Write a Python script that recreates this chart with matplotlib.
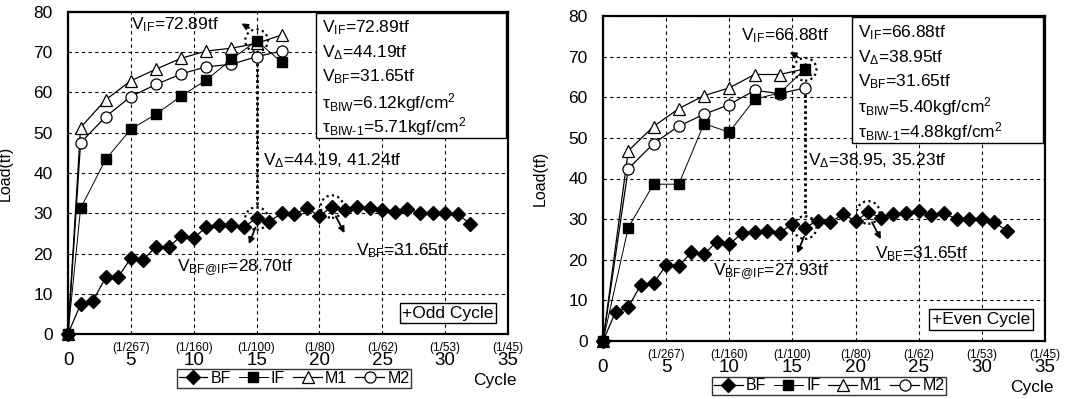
import numpy as np
import matplotlib.pyplot as plt
from matplotlib.patches import Ellipse
from matplotlib.transforms import blended_transform_factory

plt.rcParams['font.family'] = ['Liberation Sans', 'DejaVu Sans']
plt.rcParams['mathtext.fontset'] = 'custom'
plt.rcParams['mathtext.rm'] = 'Liberation Sans'
plt.rcParams['mathtext.it'] = 'Liberation Sans'
plt.rcParams['mathtext.default'] = 'rm'

# ----- data -----
cycle_bf = list(range(0, 33))

bf_odd = [0, 7.4, 8.3, 14.1, 14.2, 18.8, 18.5, 21.7, 21.5, 24.4, 23.9, 26.5, 27.1, 27.1, 26.7,
          28.7, 27.9, 30.0, 29.8, 31.2, 29.3, 31.65, 30.8, 31.5, 31.3, 30.8, 30.2, 31.1, 30.0,
          30.0, 30.0, 29.8, 27.3]
cycle_odd = [0, 1, 3, 5, 7, 9, 11, 13, 15, 17]
if_odd = [0, 31.2, 43.4, 50.9, 54.6, 59.1, 63.1, 68.2, 72.89, 67.5]
m1_odd = [0, 51.3, 58.2, 62.9, 65.8, 68.5, 70.3, 71.0, 72.2, 74.3]
m2_odd = [0, 47.5, 54.0, 59.0, 62.0, 64.6, 66.4, 67.0, 68.9, 70.3]

bf_even = [0, 7.2, 8.3, 13.9, 14.2, 18.7, 18.5, 21.8, 21.4, 24.4, 23.8, 26.5, 26.9, 27.1, 26.6,
           28.9, 27.93, 29.6, 29.2, 31.2, 29.6, 31.65, 30.4, 31.2, 31.4, 32.0, 31.0, 31.5, 30.0,
           30.1, 30.0, 29.2, 27.1]
cycle_even = [0, 2, 4, 6, 8, 10, 12, 14, 16]
if_even = [0, 27.9, 38.6, 38.6, 53.5, 51.4, 59.5, 61.1, 66.88]
m1_even = [0, 46.8, 52.8, 57.2, 60.4, 62.3, 65.6, 65.6, 67.0]
m2_even = [0, 42.4, 48.6, 52.9, 55.8, 58.2, 61.7, 60.9, 62.3]

drift_ticks = [5, 10, 15, 20, 25, 30, 35]
drift_labels = ['(1/267)', '(1/160)', '(1/100)', '(1/80)', '(1/62)', '(1/53)', '(1/45)']

box_odd = [r'V$_{\mathrm{IF}}$=72.89tf', r'V$_{\Delta}$=44.19tf', r'V$_{\mathrm{BF}}$=31.65tf',
           r'$\tau_{\mathrm{BIW}}$=6.12kgf/cm$^2$', r'$\tau_{\mathrm{BIW\text{-}1}}$=5.71kgf/cm$^2$']
box_even = [r'V$_{\mathrm{IF}}$=66.88tf', r'V$_{\Delta}$=38.95tf', r'V$_{\mathrm{BF}}$=31.65tf',
            r'$\tau_{\mathrm{BIW}}$=5.40kgf/cm$^2$', r'$\tau_{\mathrm{BIW\text{-}1}}$=4.88kgf/cm$^2$']

FS = 12.5


def dotted_circle(ax, x, y):
    ax.add_patch(Ellipse((x, y), 1.8, 5.6, fill=False, ls=(0, (1, 1.5)), lw=1.6,
                         ec='black', zorder=6))


def arrow(ax, start, end):
    ax.annotate('', xy=end, xytext=start,
                arrowprops=dict(arrowstyle='-|>', color='black', lw=1.3,
                                mutation_scale=9), zorder=7)


def draw(ax, cyc, bf, if_, m1, m2, peak_i, bf_peak, box_lines, case_txt,
         vif_txt, vd_txt, vbfif_txt, pos):
    ax.plot(cycle_bf, bf, '-', color='black', lw=0.9, marker='D', ms=7.5,
            mfc='black', mec='black', label='BF', zorder=4, clip_on=False)
    ax.plot(cyc, if_, '-', color='black', lw=0.7, marker='s', ms=6.5,
            mfc='black', mec='black', label='IF', zorder=4, clip_on=False)
    ax.plot(cyc, m1, '-', color='black', lw=0.9, marker='^', ms=8.5,
            mfc='white', mec='black', mew=0.9, label='M1', zorder=3, clip_on=False)
    ax.plot(cyc, m2, '-', color='black', lw=0.9, marker='o', ms=8,
            mfc='white', mec='black', mew=0.9, label='M2', zorder=3, clip_on=False)

    ax.set_xlim(0, 35)
    ax.set_ylim(0, 80)
    ax.set_xticks(range(0, 36, 5))
    ax.set_yticks(range(0, 81, 10))
    ax.grid(True, ls=(0, (3, 3)), color='black', lw=0.8)
    ax.tick_params(length=0)
    ax.tick_params(axis='x', pad=13, labelsize=13.5)
    ax.tick_params(axis='y', pad=11, labelsize=12.5)
    for s in ax.spines.values():
        s.set_linewidth(1.6)
    ax.set_ylabel('Load(tf)', fontsize=11.5)
    ax.yaxis.set_label_coords(-0.125, 0.5)

    tr = blended_transform_factory(ax.transData, ax.transAxes)
    for t, lab in zip(drift_ticks, drift_labels):
        ax.text(t, -0.025, lab, transform=tr, ha='center', va='top', fontsize=8.5)

    ax.text(0.97, -0.143, 'Cycle', transform=ax.transAxes, ha='center',
            va='center', fontsize=12.5)
    ax.legend(loc='upper left', bbox_to_anchor=(pos['leg'], -0.11), ncol=4,
              frameon=True, fancybox=False, edgecolor='black', fontsize=11.5,
              handlelength=1.8, columnspacing=0.5, handletextpad=0.2,
              borderpad=0.1, borderaxespad=0)

    # information box
    ys = [0.950, 0.873, 0.798, 0.720, 0.645]
    for yy, line in zip(ys, box_lines):
        ax.text(0.578, yy, line, transform=ax.transAxes, ha='left', va='center',
                fontsize=FS, zorder=9)
    ax.add_patch(plt.Rectangle((0.563, 0.608), 0.432, 0.389, transform=ax.transAxes,
                               fc='white', ec='black', lw=1.0, zorder=8))

    ax.text(pos['case'][0], pos['case'][1], case_txt, transform=ax.transAxes,
            ha='center', va='center', fontsize=FS,
            bbox=dict(boxstyle='square,pad=0.15', fc='white', ec='black', lw=1.0))

    xp = cyc[peak_i]
    ip = if_[peak_i]
    dotted_circle(ax, xp, ip)
    dotted_circle(ax, xp, bf_peak)
    dotted_circle(ax, 21, bf[21])
    ax.plot([xp, xp], [m2[peak_i] - 1.5, bf_peak + 2.5], color='black',
            ls=(0, (1, 1)), lw=2.0, zorder=5)

    ax.text(pos['vif'][0], pos['vif'][1], vif_txt, ha='left', va='center', fontsize=FS)
    arrow(ax, (xp - 0.4, ip + 2.8), (xp - 1.4, ip + 4.6))
    ax.text(pos['vd'][0], pos['vd'][1], vd_txt, ha='left', va='center', fontsize=FS)
    ax.text(pos['vbfif'][0], pos['vbfif'][1], vbfif_txt, ha='left', va='center', fontsize=FS)
    arrow(ax, (xp, bf_peak - 1.6), (xp - 0.7, bf_peak - 7.0))
    ax.text(pos['vbf'][0], pos['vbf'][1], r'V$_{\mathrm{BF}}$=31.65tf', ha='left',
            va='center', fontsize=FS)
    arrow(ax, (21.2, bf[21] - 1.8), (22.1, bf[21] - 7.2))


fig = plt.figure(figsize=(10.65, 3.99), dpi=100)
ax1 = fig.add_axes([68 / 1065, 1 - 334 / 399, 440 / 1065, 322 / 399])
ax2 = fig.add_axes([603 / 1065, 1 - 341 / 399, 442 / 1065, 325 / 399])

draw(ax1, cycle_odd, bf_odd, if_odd, m1_odd, m2_odd, 8, bf_odd[15], box_odd, '+Odd Cycle',
     r'V$_{\mathrm{IF}}$=72.89tf', r'V$_{\Delta}$=44.19, 41.24tf', r'V$_{\mathrm{BF@IF}}$=28.70tf',
     dict(leg=0.248, case=(0.864, 0.065), vif=(5.0, 76.8), vd=(15.5, 43.0),
          vbfif=(8.7, 16.4), vbf=(22.9, 20.6)))
draw(ax2, cycle_even, bf_even, if_even, m1_even, m2_even, 8, bf_even[16], box_even, '+Even Cycle',
     r'V$_{\mathrm{IF}}$=66.88tf', r'V$_{\Delta}$=38.95, 35.23tf', r'V$_{\mathrm{BF@IF}}$=27.93tf',
     dict(leg=0.247, case=(0.855, 0.066), vif=(10.9, 75.2), vd=(16.2, 44.5),
          vbfif=(8.7, 17.0), vbf=(21.5, 21.6)))

fig.savefig('out.png', dpi=100)
